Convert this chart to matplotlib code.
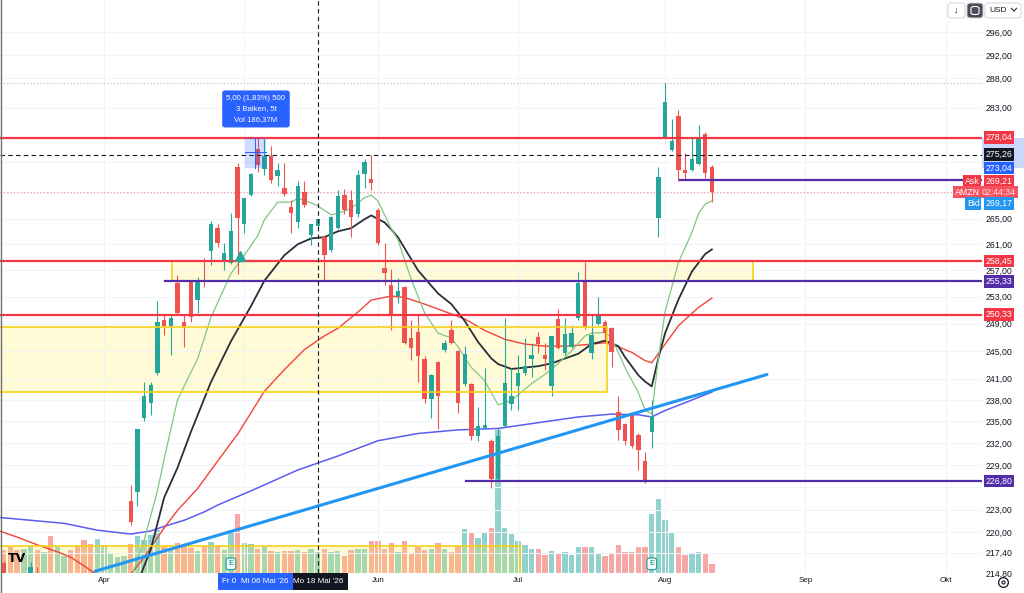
import numpy as np
import pandas as pd
import matplotlib
matplotlib.use('Agg')
import matplotlib.pyplot as plt
import matplotlib.transforms as mtransforms
from matplotlib.ticker import FixedLocator, NullLocator, FuncFormatter
from matplotlib.patches import Rectangle, FancyBboxPatch
from matplotlib.lines import Line2D

plt.rcParams['font.family'] = ['Liberation Sans', 'DejaVu Sans']

UP = '#26a69a'
DOWN = '#ef5350'
RED = '#f23645'
PURPLE = '#512da8'
TXT = '#131722'

# Handelstage 2026 (ohne US-Feiertage), Balken 0 = 1. April
holidays = ['2026-04-03', '2026-05-25', '2026-06-19', '2026-07-03', '2026-09-07']
days = pd.bdate_range('2026-03-11', '2026-10-30')
days = days[~days.isin(pd.to_datetime(holidays))]
bar0 = days.get_loc(pd.Timestamp('2026-04-01'))

month_names = ['Apr', '', 'Jun', 'Jul', 'Aug', 'Sep', 'Okt']
month_starts = ['2026-04-01', '2026-05-01', '2026-06-01', '2026-07-01',
                '2026-08-01', '2026-09-01', '2026-10-01']

# AMZN Tageskerzen ab 08.04.2026
candle_start = '2026-04-08'
opens = [224.1, 225.4, 235.4, 237.6, 241.8, 249.5, 248.6, 255.1, 249.3, 255.3,
         252.5, 255.5, 260.0, 263.6, 258.5, 258.1, 273.3, 264.2, 268.7, 276.1,
         272.9, 275.0, 271.7, 269.9, 266.8, 264.5, 269.2, 262.4, 263.8, 262.2,
         260.1, 263.6, 268.7, 267.9, 265.8, 272.1, 271.3, 266.4, 257.3, 254.8,
         253.1, 254.4, 246.9, 247.8, 243.8, 238.1, 243.4, 245.2, 248.1, 245.0,
         240.2, 240.2, 232.9, 234.0, 232.3, 227.1, 234.4, 237.4, 239.9, 241.8,
         243.9, 247.1, 244.4, 240.0, 249.7, 244.7, 245.6, 249.8, 255.3, 244.7,
         249.0, 249.3, 248.4, 236.3, 234.6, 235.9, 233.1, 229.5, 233.5, 265.1,
         278.2, 276.0, 281.7, 272.8, 272.8, 273.8, 278.7, 273.2]
highs = [226.3, 233.9, 240.6, 240.6, 252.3, 250.3, 250.3, 256.3, 250.3, 255.5,
         256.0, 258.9, 264.7, 264.2, 261.2, 265.9, 273.9, 268.3, 272.3, 278.04,
         277.8, 276.7, 273.9, 273.9, 267.9, 270.9, 270.9, 264.2, 265.0, 262.4,
         265.4, 269.6, 269.7, 269.5, 272.7, 274.6, 275.2, 266.6, 261.2, 257.2,
         255.8, 254.6, 249.6, 250.3, 244.3, 241.7, 243.5, 246.6, 249.6, 245.2,
         245.7, 240.4, 237.0, 242.5, 232.5, 234.0, 249.8, 242.5, 244.4, 246.9,
         246.1, 247.8, 246.1, 247.2, 251.1, 249.8, 248.8, 256.7, 258.2, 250.3,
         253.0, 249.6, 248.5, 238.6, 234.7, 236.0, 233.3, 230.8, 238.0, 273.3,
         287.2, 281.1, 282.7, 275.5, 278.2, 280.1, 278.9, 273.6]
lows = [221.0, 223.5, 235.0, 235.9, 241.5, 247.3, 244.4, 250.5, 245.6, 249.3,
        250.6, 254.5, 257.8, 260.6, 257.1, 258.0, 256.5, 262.7, 268.5, 272.5,
        272.0, 270.7, 270.1, 268.5, 262.7, 263.5, 266.8, 260.9, 263.5, 255.4,
        259.8, 263.3, 265.8, 262.2, 265.3, 269.8, 269.5, 260.9, 254.8, 248.1,
        252.1, 246.0, 243.7, 240.6, 237.6, 235.4, 233.9, 244.9, 246.0, 236.2,
        240.0, 232.4, 232.2, 233.9, 225.9, 226.9, 234.2, 236.6, 236.6, 241.6,
        241.3, 244.7, 242.3, 238.6, 245.3, 244.4, 245.4, 249.6, 248.2, 243.8,
        248.8, 246.6, 242.7, 232.4, 231.7, 231.3, 228.3, 226.5, 231.3, 262.2,
        277.9, 275.8, 270.9, 271.1, 272.6, 273.6, 271.4, 267.7]
closes = [221.4, 233.9, 238.6, 240.1, 249.3, 248.6, 249.9, 250.6, 248.4, 250.0,
          255.4, 255.2, 264.1, 261.2, 259.7, 263.1, 265.1, 268.3, 272.1, 273.6,
          275.0, 271.1, 272.8, 268.9, 265.9, 270.2, 267.2, 264.2, 264.9, 259.4,
          265.3, 268.6, 266.4, 265.3, 271.9, 274.1, 270.6, 261.2, 256.6, 250.1,
          253.9, 246.1, 245.4, 244.3, 238.1, 241.6, 238.6, 246.1, 246.1, 237.6,
          244.5, 232.9, 234.3, 234.5, 227.1, 232.9, 240.4, 238.5, 241.8, 242.8,
          244.4, 246.0, 243.8, 247.2, 245.4, 247.5, 247.6, 255.1, 248.5, 247.3,
          250.1, 247.6, 244.9, 233.8, 232.3, 231.6, 231.0, 226.9, 235.7, 271.6,
          284.0, 277.4, 272.7, 272.3, 274.5, 278.1, 272.2, 269.21]

# am linken Rand nur teilweise sichtbare Kerzen
early_dates = ['2026-03-11', '2026-03-17', '2026-03-18']
early_o = [216.1, 213.8, 214.5]
early_h = [216.3, 216.2, 215.5]
early_l = [212.5, 213.0, 213.0]
early_c = [213.5, 215.5, 213.5]

# Volumen (Mio.) ab 11.03.2026
vol_start = '2026-03-11'
vol_early = [51, 57, 51, 53, 59, 51, 46, 81, 57, 37, 51, 62, 73, 64, 75, 62, 42, 35, 37]
vol_early_up = [0, 0, 0, 1, 1, 0, 1, 0, 1, 1, 0, 0, 0, 0, 1, 1, 1, 1, 1]
vol_main = [64, 81, 73, 84, 95, 57, 53, 66, 59, 55, 48, 59, 68, 59, 51, 95, 130, 66, 64, 53,
            59, 48, 46, 48, 48, 51, 46, 53, 46, 53, 46, 48, 37, 51, 53, 53,
            70, 70, 53, 66, 46, 70, 44, 57, 51, 53, 66, 53, 46, 59, 97, 88, 77, 90, 99, 315,
            99, 86, 70, 62, 53, 53, 40, 48, 42, 46, 40, 57, 57, 57, 42, 37, 44, 62, 46, 46,
            57, 57, 130, 163, 117, 90, 57, 40, 44, 46, 42, 20]

# gleitende Durchschnitte (Balken relativ zum 1. April)
ma_fast_bars = [4, 6, 8, 9, 11, 13, 14, 16, 19, 21, 23, 24, 26, 28, 29, 31, 32, 34, 35, 37,
                39, 40, 41, 43, 44, 46, 48, 50, 52, 53, 55, 57, 59, 61, 62, 64, 66, 68, 70, 72,
                73, 75, 76, 78, 80, 81, 82, 83, 84, 86, 88, 89, 90, 91]
ma_fast = [214.0, 219.0, 225.5, 229.8, 238.0, 241.9, 243.8, 249.9, 256.5, 259.3,
           262.3, 264.8, 267.6, 267.6, 268.2, 267.5, 267.0, 265.6, 265.8, 266.6,
           268.3, 268.7, 267.8, 263.4, 261.7, 255.6, 250.6, 247.6, 246.9, 245.6,
           242.6, 240.7, 237.3, 237.9, 238.7, 240.3, 241.6, 243.2, 245.0, 247.2,
           247.6, 247.7, 246.9, 242.6, 239.0, 236.6, 236.0, 244.0, 250.8, 258.2,
           262.8, 265.8, 267.3, 267.8]
ma_mid_bars = [5, 7, 9, 11, 13, 16, 19, 22, 24, 27, 29, 31, 33, 35, 37, 39, 40, 42, 43, 44,
               47, 50, 52, 54, 56, 58, 59, 61, 63, 65, 67, 69, 71, 73, 75, 77, 78, 80, 81, 82,
               83, 84, 86, 88, 90, 91]
ma_mid = [213.5, 217.8, 224.6, 228.6, 233.5, 240.5, 246.4, 251.6, 255.4, 259.3,
          261.0, 261.9, 262.1, 263.0, 263.5, 264.9, 265.5, 264.4, 263.3, 262.1,
          257.0, 253.5, 251.9, 249.4, 246.3, 243.9, 243.1, 242.4, 242.6, 242.8,
          243.2, 243.9, 244.6, 246.0, 246.5, 245.7, 244.1, 241.5, 240.6, 239.9,
          244.0, 247.6, 252.6, 256.8, 259.5, 260.2]
ma_slow_bars = [-16, -13, -10, -7, -5, -3, -1, 1, 3, 4, 6, 9, 11, 14, 17, 20, 24, 27, 30, 33,
                35, 38, 40, 43, 45, 48, 51, 54, 57, 60, 63, 66, 69, 72, 75, 77, 79, 81, 82, 84,
                86, 88, 89, 91]
ma_slow = [220.3, 219.4, 218.4, 217.5, 216.8, 215.7, 214.5, 213.0, 213.4, 214.6,
           216.8, 220.6, 222.9, 225.8, 229.5, 233.2, 239.2, 242.3, 245.2, 247.2,
           248.3, 250.7, 252.5, 253.1, 252.9, 251.9, 250.8, 249.7, 248.0, 246.7,
           246.0, 245.7, 245.7, 245.9, 246.2, 245.6, 244.8, 243.6, 243.3, 246.0,
           248.7, 250.5, 251.4, 252.8]
ma_long_bars = [-16, -11, -6, -1, 4, 7, 9, 12, 15, 17, 22, 29, 35, 41, 47, 53, 59, 65, 71, 76,
                80, 82, 84, 87, 91]
ma_long = [222.0, 221.6, 221.2, 220.3, 219.8, 220.2, 220.8, 221.6, 222.7, 223.6,
           225.5, 228.3, 230.2, 232.3, 233.3, 233.8, 234.0, 234.8, 235.6, 236.0,
           235.9, 235.6, 236.5, 237.6, 239.1]

# Zeichnungen
red_levels = [278.04, 258.45, 250.33]
purple_levels = [255.33, 226.80, 271.2]
purple_from = [9.1, 54.2, 86.2]
zones = [(10.2, 97.2, 255.33, 258.45), (-20, 75.3, 239.1, 248.5), (-20, 62.3, 205.0, 218.3)]
trend_bars = [-1.35, 99.25]
trend_prices = [215.0, 241.6]
cross_bar, cross_price = 32, 275.26
last_price = 269.21
top_price = 287.24
price_ticks = [296, 292, 288, 283, 278, 274, 269, 265, 261, 257, 253, 249, 245, 241,
               238, 235, 232, 229, 226, 223, 220, 217.4, 214.8]
hidden_ticks = [278, 274, 269, 226]   # von Preisschildern verdeckt


def bar_of(d):
    return days.get_loc(pd.Timestamp(d)) - bar0


def fmt(v):
    return f"{v:.2f}".replace('.', ',')


fig = plt.figure(figsize=(10.24, 5.93), dpi=100)
rect = [0, 20 / 593, 982 / 1024, 573 / 593]
ax_vol = fig.add_axes(rect)
ax = fig.add_axes(rect)
ax_vol.set_zorder(0)
ax.set_zorder(1)
ax.patch.set_visible(False)

XMIN, XMAX = -15.57, 131.44

# Volumen
vol_x = bar_of(vol_start) + np.arange(len(vol_early) + len(vol_main))
main_up = np.array(closes) >= np.array(opens)
vol_up = list(vol_early_up) + list(main_up)
vol_cols = [(38 / 255, 166 / 255, 154 / 255, 0.5) if u else (239 / 255, 83 / 255, 80 / 255, 0.5)
            for u in vol_up]
ax_vol.bar(vol_x, vol_early + vol_main, width=0.8, color=vol_cols, linewidth=0)
ax_vol.set_xlim(XMIN, XMAX)
ax_vol.set_ylim(0, 1260)
ax_vol.axis('off')

ax.set_yscale('log')
ax.set_xlim(XMIN, XMAX)
ax.set_ylim(214.78, 301.67)


def draw_candles(xs, o, h, l, c):
    o, h, l, c = map(np.asarray, (o, h, l, c))
    col = np.where(c >= o, UP, DOWN)
    ax.vlines(xs, l, h, colors=col, lw=0.8, zorder=4)
    ax.bar(xs, np.maximum(np.abs(c - o), 0.12), bottom=np.minimum(o, c), width=0.66,
           color=col, linewidth=0, zorder=4.1)


main_x = bar_of(candle_start) + np.arange(len(opens))
draw_candles(main_x, opens, highs, lows, closes)
draw_candles([bar_of(d) for d in early_dates], early_o, early_h, early_l, early_c)

# Zonen
for x1, x2, p1, p2 in zones:
    ax.add_patch(Rectangle((x1, p1), x2 - x1, p2 - p1, fc=(1, 0.92, 0.23, 0.2),
                           ec='none', zorder=1))
    ax.add_patch(Rectangle((x1, p1), x2 - x1, p2 - p1, fill=False,
                           ec='#f7d117', lw=1.2, zorder=5))

# Durchschnitte
ax.plot(ma_long_bars, ma_long, color='#5b5cf0', lw=1.1, zorder=3)
ax.plot(ma_slow_bars, ma_slow, color='#f44336', lw=1.0, zorder=3)
ax.plot(ma_mid_bars, ma_mid, color='#2a2e39', lw=1.3, zorder=3)
ax.plot(ma_fast_bars, ma_fast, color='#81c784', lw=0.9, zorder=3)

# Linien
for lv in red_levels:
    ax.axhline(lv, color=RED, lw=1.6, zorder=5)
for lv, x1 in zip(purple_levels, purple_from):
    ax.plot([x1, XMAX], [lv, lv], color=PURPLE, lw=1.6, zorder=5)
ax.plot(trend_bars, trend_prices, color='#2196f3', lw=2.2, zorder=6, solid_capstyle='round')
ax.axhline(top_price, color='#b2b5be', lw=0.8, ls=(0, (1, 2)), zorder=2)
ax.axhline(last_price, color=RED, lw=0.8, ls=(0, (1, 2)), alpha=0.6, zorder=2)
ax.axhline(cross_price, color=TXT, lw=0.8, ls=(0, (4, 3)), zorder=6)
ax.axvline(cross_bar, color=TXT, lw=0.8, ls=(0, (4, 3)), zorder=6)

# Messbereich + Tooltip
ax.add_patch(Rectangle((21.1, 273.04), 3.1, 5.0, fc='#2962ff', alpha=0.22, ec='none', zorder=6))
ax.plot([21.1, 24.2], [275.6, 275.6], color='#2962ff', lw=0.7, zorder=6)
ax.plot([22.65, 22.65], [273.04, 278.04], color='#2962ff', lw=0.7, zorder=6)
ax.text(22.75, 282.8, "5,00 (1,83%) 500\n3 Balken, 5t\nVol 186,37M", ha='center', va='center',
        color='white', fontsize=5.6, linespacing=1.75, zorder=10,
        bbox=dict(boxstyle='round,pad=0.55,rounding_size=0.35', fc='#2962ff', ec='none'))
ax.plot(20.3, 259.2, marker='^', ms=7, color=UP, zorder=7)

# Achsen
ax.yaxis.set_major_locator(FixedLocator(price_ticks))
ax.yaxis.set_minor_locator(NullLocator())
ax.yaxis.set_major_formatter(FuncFormatter(lambda v, p: '' if v in hidden_ticks else fmt(v)))
ax.yaxis.tick_right()
ax.tick_params(axis='y', length=0, pad=12.5, labelsize=6.3, labelcolor=TXT)
for t in ax.get_yticklabels():
    t.set_ha('center')
ax.set_xticks([days.searchsorted(pd.Timestamp(m)) - bar0 for m in month_starts])
ax.set_xticklabels(month_names)
ax.tick_params(axis='x', length=0, pad=3, labelsize=5.8, labelcolor=TXT)
ax.grid(True, color='#f0f3fa', lw=0.8, zorder=0)
for s in ax.spines.values():
    s.set_visible(False)

# Preisschilder rechts
ty = mtransforms.blended_transform_factory(ax.transAxes, ax.transData)
ax.add_patch(Rectangle((1.0, 273.04), 42 / 982, 5.0, transform=ty, fc='#2962ff', alpha=0.25,
                       ec='none', clip_on=False, zorder=8))


def tag(price, text, fc, x=1.0173, dy=0, tc='white', ha='center'):
    ax.annotate(text, xy=(x, price), xycoords=ty, xytext=(0, dy), textcoords='offset pixels',
                ha=ha, va='center', fontsize=6.3, color=tc, annotation_clip=False, zorder=20,
                bbox=dict(boxstyle='square,pad=0.2', fc=fc, ec='none'))


tag(278.04, fmt(278.04), RED)
tag(275.26, fmt(275.26), TXT)
tag(273.04, fmt(273.04), '#2962ff')
tag(258.45, fmt(258.45), RED)
tag(255.33, fmt(255.33), PURPLE)
tag(250.33, fmt(250.33), RED)
tag(226.80, fmt(226.80), PURPLE)
tag(269.21, fmt(269.21), RED, dy=11)
tag(269.21, '02:44:34', '#f7525f', tc='#ffe0e3')
tag(269.17, fmt(269.17), '#2196f3', dy=-11)
tag(269.21, 'Ask', RED, x=0.9975, dy=11, ha='right')
tag(269.21, 'AMZN', '#f7525f', x=0.9975, ha='right')
tag(269.17, 'Bid', '#2196f3', x=0.9975, dy=-11, ha='right')

# Zeitachse: markierte Daten (Messbereich blau, Fadenkreuz schwarz)
tx = mtransforms.blended_transform_factory(ax.transData, ax.transAxes)
ax.add_patch(Rectangle((17.1, -0.029), 11.2, 0.029, transform=tx, fc='#2962ff', ec='none',
                       clip_on=False, zorder=19))
ax.add_patch(Rectangle((28.3, -0.029), 8.2, 0.029, transform=tx, fc=TXT, ec='none',
                       clip_on=False, zorder=19))
for b, text in [(18.7, "Fr 0"), (24, "Mi 06 Mai '26"), (32, "Mo 18 Mai '26")]:
    ax.text(b, -0.0145, text, transform=tx, ha='center', va='center', fontsize=5.8,
            color='white', clip_on=False, zorder=20)

# Earnings-Marker
for b in [19, 82]:
    ax.annotate('E', xy=(b, 0.016), xycoords=tx, ha='center', va='center', fontsize=5.5,
                color=UP, fontweight='bold', zorder=9,
                bbox=dict(boxstyle='round,pad=0.3', fc='white', ec=UP, lw=0.9))

# Logo und Bedienelemente
fig.text(17 / 1024, 1 - 558 / 593, 'TV', fontsize=9, fontweight='black', color='black',
         ha='center', va='center', family='DejaVu Sans')


def px(x, y):
    return x / 1024, 1 - y / 593


for (x1, y1, x2, y2, fc) in [(948, 3, 965, 18, 'white'), (967, 3, 983, 18, '#4a4d57'),
                             (985, 3, 1021, 18, 'white')]:
    fx, fy = px(x1, y2)
    fig.add_artist(FancyBboxPatch((fx, fy), (x2 - x1) / 1024, (y2 - y1) / 593,
                                  boxstyle='round,pad=0,rounding_size=0.004', fc=fc,
                                  ec='#d1d4dc', lw=0.7, transform=fig.transFigure))
fig.text(*px(956.5, 10.5), '↓', fontsize=6.5, color=TXT, ha='center', va='center')
fx, fy = px(971, 14.5)
fig.add_artist(FancyBboxPatch((fx, fy), 8 / 1024, 8 / 593, boxstyle='round,pad=0,rounding_size=0.003',
                              fc='none', ec='white', lw=0.8, transform=fig.transFigure))
fig.text(*px(989, 10.5), 'USD', fontsize=6, color=TXT, ha='left', va='center')
cx, cy = px(1014, 10)
fig.add_artist(Line2D([cx - 0.0025, cx, cx + 0.0025], [cy + 0.003, cy - 0.002, cy + 0.003],
                      color=TXT, lw=0.7, transform=fig.transFigure))
gx, gy = px(1003, 582)
fig.add_artist(Line2D([gx], [gy], marker='o', ms=7, mfc='none', mec=TXT, mew=0.9,
                      transform=fig.transFigure))
fig.add_artist(Line2D([gx], [gy], marker='o', ms=2.2, mfc='none', mec=TXT, mew=0.8,
                      transform=fig.transFigure))
fig.add_artist(Line2D([0.0005, 0.0005], [0, 1], color='#707070', lw=1.0, transform=fig.transFigure))

fig.savefig('out.png', dpi=100)
